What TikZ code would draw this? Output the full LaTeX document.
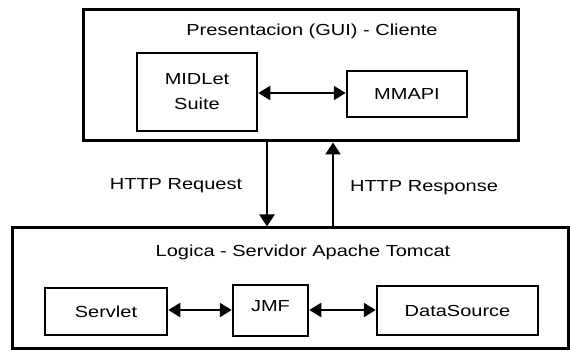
\documentclass[tikz,border=0pt]{standalone}
\usepackage{fontspec}
\setmainfont[FakeStretch=1.25]{Liberation Sans}
\usetikzlibrary{arrows.meta,calc}
\begin{document}
\begin{tikzpicture}[x=1pt,y=-1pt,
  outerbox/.style={draw,line width=3pt,rectangle,inner sep=0pt},
  innerbox/.style={draw,line width=2.5pt,rectangle,inner sep=0pt,align=center},
  lbl/.style={inner sep=0pt,font=\fontsize{16}{25}\selectfont},
  conn/.style={line width=2.2pt,-{Triangle[length=12pt,width=15pt]}},
  biconn/.style={line width=2.2pt,{Triangle[length=12pt,width=14pt]}-{Triangle[length=12pt,width=14pt]}}
]
\useasboundingbox[fill=white] (0,0) rectangle (570,352);
% top layer
\node[outerbox,minimum width=435pt,minimum height=131pt] (top) at (300.5,75.5) {};
\node[lbl] (toptitle) at (312,31) {Presentacion (GUI) - Cliente};
\node[innerbox,lbl,minimum width=120pt,minimum height=78pt] (midlet) at (197,92) {MIDLet\\Suite};
\node[innerbox,lbl,minimum width=120pt,minimum height=46pt] (mmapi) at (407,94) {MMAPI};
\draw[biconn] (midlet.east |- 0,93) -- (mmapi.west |- 0,93);
% bottom layer
\node[outerbox,minimum width=556pt,minimum height=121pt] (bot) at (290,288.5) {};
\node[lbl] (bottitle) at (303,252) {Logica - Servidor Apache Tomcat};
\node[innerbox,lbl,minimum width=122pt,minimum height=47pt] (servlet) at (106,311.5) {Servlet};
\node[innerbox,lbl,minimum width=75pt,minimum height=51pt,text depth=9pt] (jmf) at (270.5,310.5) {JMF};
\node[innerbox,lbl,minimum width=161pt,minimum height=49pt] (ds) at (457.5,310.5) {DataSource};
\draw[biconn] (servlet.east |- 0,310) -- (jmf.west |- 0,310);
\draw[biconn] (jmf.east |- 0,310) -- (ds.west |- 0,310);
% vertical connectors
\coordinate (reqx) at (267,0);
\coordinate (resx) at (333,0);
\draw[conn] (top.south -| reqx) -- (bot.north -| reqx);
\draw[conn] (bot.north -| resx) -- (top.south -| resx);
\node[lbl] (req) at (176,186) {HTTP Request};
\node[lbl] (res) at (424,188) {HTTP Response};
\end{tikzpicture}
\end{document}
